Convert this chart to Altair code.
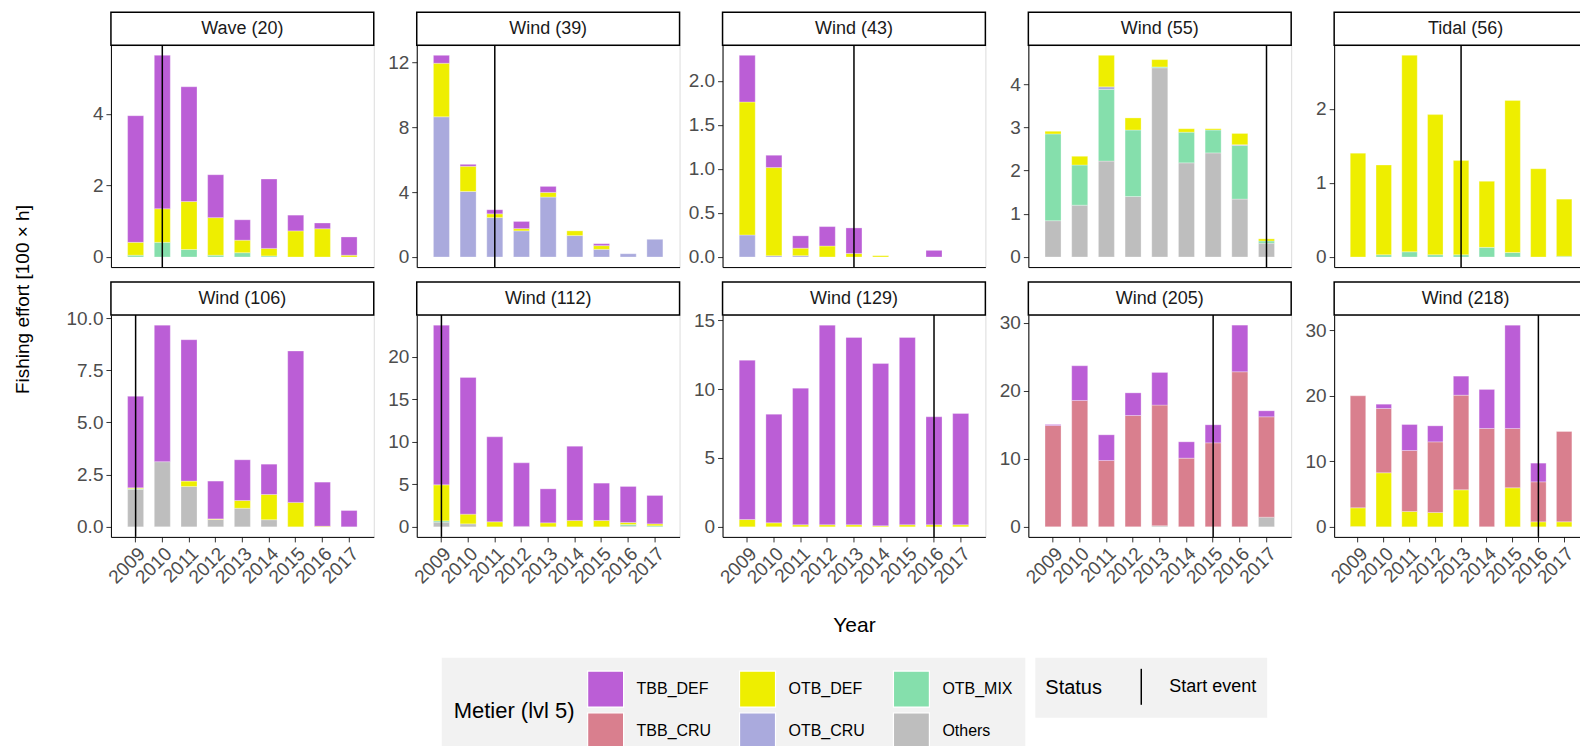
import altair as alt
import pandas as pd

YEARS = [2009, 2010, 2011, 2012, 2013, 2014, 2015, 2016, 2017]

# stacking order, bottom -> top
STACK = ["Others", "OTB_MIX", "OTB_CRU", "OTB_DEF", "TBB_CRU", "TBB_DEF"]
# legend order (row-major, 3 columns)
LEGEND_ORDER = ["TBB_DEF", "OTB_DEF", "OTB_MIX", "TBB_CRU", "OTB_CRU", "Others"]
LEGEND_COLORS = ["#BB5ED6", "#EEEE00", "#85DFAC", "#D97F8E", "#AAAADD", "#BEBEBE"]

PANEL_TITLES = ["Wave (20)", "Wind (39)", "Wind (43)", "Wind (55)", "Tidal (56)",
                "Wind (106)", "Wind (112)", "Wind (129)", "Wind (205)", "Wind (218)"]
START_YEARS = [2010, 2011, 2013, 2017, 2013, 2009, 2009, 2016, 2015, 2016]
Y_TICKS = [[0, 2, 4], [0, 4, 8, 12], [0, 0.5, 1.0, 1.5, 2.0], [0, 1, 2, 3, 4], [0, 1, 2],
           [0, 2.5, 5.0, 7.5, 10.0], [0, 5, 10, 15, 20], [0, 5, 10, 15], [0, 10, 20, 30], [0, 10, 20, 30]]
Y_FORMATS = ["d", "d", ".1f", "d", "d", ".1f", "d", "d", "d", "d"]

wave20 = {
    "OTB_MIX": [0.05, 0.41, 0.21, 0.05, 0.12, 0.03, 0, 0, 0],
    "OTB_DEF": [0.36, 0.94, 1.34, 1.05, 0.35, 0.21, 0.73, 0.79, 0.05],
    "TBB_DEF": [3.54, 4.29, 3.21, 1.20, 0.57, 1.94, 0.44, 0.16, 0.51],
}
wind39 = {
    "OTB_CRU": [8.64, 4.04, 2.43, 1.61, 3.69, 1.32, 0.47, 0.20, 1.09],
    "OTB_DEF": [3.30, 1.55, 0.23, 0.14, 0.29, 0.29, 0.23, 0, 0],
    "TBB_DEF": [0.49, 0.12, 0.25, 0.44, 0.37, 0, 0.12, 0, 0],
}
wind43 = {
    "OTB_CRU": [0.25, 0.015, 0.015, 0, 0, 0, 0, 0, 0],
    "OTB_DEF": [1.51, 1.00, 0.085, 0.125, 0.04, 0.015, 0, 0, 0],
    "TBB_DEF": [0.53, 0.14, 0.14, 0.22, 0.29, 0, 0, 0.075, 0],
}
wind55 = {
    "Others": [0.84, 1.20, 2.22, 1.40, 4.38, 2.18, 2.41, 1.34, 0.32],
    "OTB_MIX": [2.01, 0.93, 1.66, 1.54, 0.02, 0.71, 0.53, 1.24, 0.05],
    "OTB_CRU": [0, 0, 0.06, 0, 0, 0, 0, 0.02, 0],
    "OTB_DEF": [0.06, 0.20, 0.73, 0.28, 0.17, 0.08, 0.03, 0.26, 0.05],
}
tidal56 = {
    "OTB_MIX": [0, 0.03, 0.07, 0.03, 0.03, 0.13, 0.06, 0, 0.01],
    "OTB_DEF": [1.40, 1.21, 2.65, 1.89, 1.27, 0.89, 2.05, 1.19, 0.77],
}
wind106 = {
    "Others": [1.79, 3.12, 1.93, 0.35, 0.89, 0.34, 0, 0, 0],
    "OTB_MIX": [0.04, 0, 0, 0, 0, 0, 0, 0, 0],
    "OTB_DEF": [0.04, 0, 0.26, 0.03, 0.37, 1.21, 1.17, 0.03, 0],
    "TBB_DEF": [4.38, 6.54, 6.77, 1.81, 1.95, 1.45, 7.25, 2.11, 0.78],
}
wind112 = {
    "Others": [0.55, 0.35, 0, 0.05, 0, 0, 0, 0.10, 0],
    "OTB_MIX": [0.15, 0, 0, 0, 0, 0, 0, 0.17, 0.12],
    "OTB_DEF": [4.24, 1.14, 0.59, 0, 0.47, 0.75, 0.75, 0.24, 0.23],
    "TBB_DEF": [18.8, 16.1, 10.0, 7.48, 4.0, 8.74, 4.39, 4.24, 3.34],
}
wind129 = {
    "OTB_DEF": [0.53, 0.29, 0.15, 0.15, 0.15, 0.07, 0.15, 0.15, 0.15],
    "TBB_DEF": [11.57, 7.89, 9.92, 14.5, 13.6, 11.79, 13.6, 7.84, 8.08],
}
wind205 = {
    "Others": [0, 0, 0, 0, 0.15, 0, 0, 0, 1.42],
    "TBB_CRU": [14.9, 18.58, 9.75, 16.37, 17.75, 10.1, 12.35, 22.8, 14.76],
    "TBB_DEF": [0.15, 5.10, 3.78, 3.33, 4.80, 2.40, 2.65, 6.86, 0.88],
}
wind218 = {
    "OTB_CRU": [0.05, 0, 0, 0, 0, 0, 0, 0, 0],
    "OTB_DEF": [2.85, 8.24, 2.34, 2.19, 5.64, 0, 5.95, 0.76, 0.76],
    "TBB_CRU": [17.08, 9.81, 9.30, 10.77, 14.44, 15.0, 9.05, 6.10, 13.78],
    "TBB_DEF": [0, 0.65, 3.96, 2.44, 2.90, 5.95, 15.76, 2.85, 0],
}
PANEL_DATA = [wave20, wind39, wind43, wind55, tidal56,
              wind106, wind112, wind129, wind205, wind218]

FONT = "Liberation Sans, Arial, Helvetica, sans-serif"
W, H = 263, 222
W_LAST = 254
STRIP = 33

color_enc = alt.Color(
    "metier:N",
    scale=alt.Scale(domain=LEGEND_ORDER, range=LEGEND_COLORS),
    legend=alt.Legend(
        title="Metier (lvl 5)", orient="none", legendX=331, legendY=613,
        columns=3, direction="horizontal", symbolType="square", symbolSize=1296,
        symbolStrokeColor="white", symbolStrokeWidth=1.2, symbolOpacity=1,
        rowPadding=0, columnPadding=25, labelOffset=12, labelFontSize=16,
        labelColor="black", labelFont=FONT, titleFont=FONT,
        titleOrient="left", titleFontSize=22, titleFontWeight="normal",
        titleColor="black", titlePadding=11, titleAnchor="middle", titleBaseline="middle",
        fillColor="#F2F2F2", padding=12, labelLimit=200,
    ),
)

stroke_enc = alt.Stroke(
    "status:N",
    scale=alt.Scale(domain=["Start event"], range=["black"]),
    legend=alt.Legend(
        title="Status", orient="none", legendX=925, legendY=613,
        symbolType="M0,-1L0,1", symbolSize=1296, symbolStrokeWidth=1.5,
        labelOffset=9, labelFontSize=18, labelColor="black", labelFont=FONT,
        titleFont=FONT, titleOrient="left", titleFontSize=20, titleFontWeight="normal",
        titleColor="black", titlePadding=20, titleAnchor="middle", titleBaseline="middle",
        fillColor="#F2F2F2", padding=10,
    ),
)

panels = []
for i, (title, data) in enumerate(zip(PANEL_TITLES, PANEL_DATA)):
    width = W_LAST if i in (4, 9) else W
    rows = []
    totals = [0.0] * len(YEARS)
    for m in STACK:
        if m not in data:
            continue
        for j, (yr, v) in enumerate(zip(YEARS, data[m])):
            totals[j] += v
            if v > 0:
                rows.append({"year": yr, "metier": m, "value": v, "stack_idx": STACK.index(m)})
    df = pd.DataFrame(rows)
    ymax = max(totals)
    bottom_row = i >= 5

    if bottom_row:
        if i == 7:
            x_axis = alt.Axis(labelAngle=-45, title="Year", titleFontSize=21,
                              titleFontWeight="normal", titleColor="black", titleY=89,
                              titleBaseline="middle", labelPadding=2)
        else:
            x_axis = alt.Axis(labelAngle=-45, title=None, labelPadding=2)
    else:
        x_axis = alt.Axis(labels=False, ticks=False, title=None)

    if i == 5:
        y_axis = alt.Axis(values=Y_TICKS[i], format=Y_FORMATS[i], title="Fishing effort [100 × h]",
                          titleFontSize=19, titleFontWeight="normal", titleColor="black",
                          titleX=-88, titleY=-16, titleBaseline="middle", titleAngle=270)
    else:
        y_axis = alt.Axis(values=Y_TICKS[i], format=Y_FORMATS[i], title=None)

    xscale = alt.Scale(domain=YEARS, paddingInner=0.4, paddingOuter=0.625)

    bars = alt.Chart(df).mark_bar(stroke="white", strokeWidth=0.5, strokeOpacity=0.6).encode(
        x=alt.X("year:O", scale=xscale, axis=x_axis),
        y=alt.Y("value:Q", stack="zero",
                scale=alt.Scale(domain=[-0.05 * ymax, 1.05 * ymax], nice=False, zero=False),
                axis=y_axis),
        color=color_enc,
        order=alt.Order("stack_idx:Q", sort="ascending"),
    )

    rule = alt.Chart(pd.DataFrame({"year": [START_YEARS[i]], "status": ["Start event"]})).mark_rule(
        strokeWidth=1.5).encode(
        x=alt.X("year:O", scale=xscale),
        stroke=stroke_enc,
    )

    strip_df = pd.DataFrame({"label": [title]})
    strip = alt.Chart(strip_df).mark_rect(fill="white", stroke="black", strokeWidth=1.5).encode(
        x=alt.value(0), x2=alt.value(W), y=alt.value(-STRIP), y2=alt.value(0))
    strip_text = alt.Chart(strip_df).mark_text(fontSize=18, color="#1A1A1A", font=FONT,
                                               baseline="middle", align="center").encode(
        text="label:N", x=alt.value(W / 2), y=alt.value(-STRIP / 2))

    panels.append(alt.layer(bars, rule, strip, strip_text).properties(width=width, height=H))

chart = alt.concat(*panels, columns=5, spacing={"row": 48, "column": 43}, bounds="flush",
                   align="each").properties(
    padding={"left": 5, "top": 2, "right": -19, "bottom": 5}
).configure(font=FONT).configure_view(
    stroke="#DCDCDC", strokeWidth=1
).configure_axis(
    domainColor="black", domainWidth=1, tickColor="#333333", tickSize=5, grid=False,
    labelColor="#4D4D4D", labelFontSize=19, labelFont=FONT, titleFont=FONT, labelPadding=3
)

chart.save("out.html", embed_options={"renderer": "svg", "actions": False})
